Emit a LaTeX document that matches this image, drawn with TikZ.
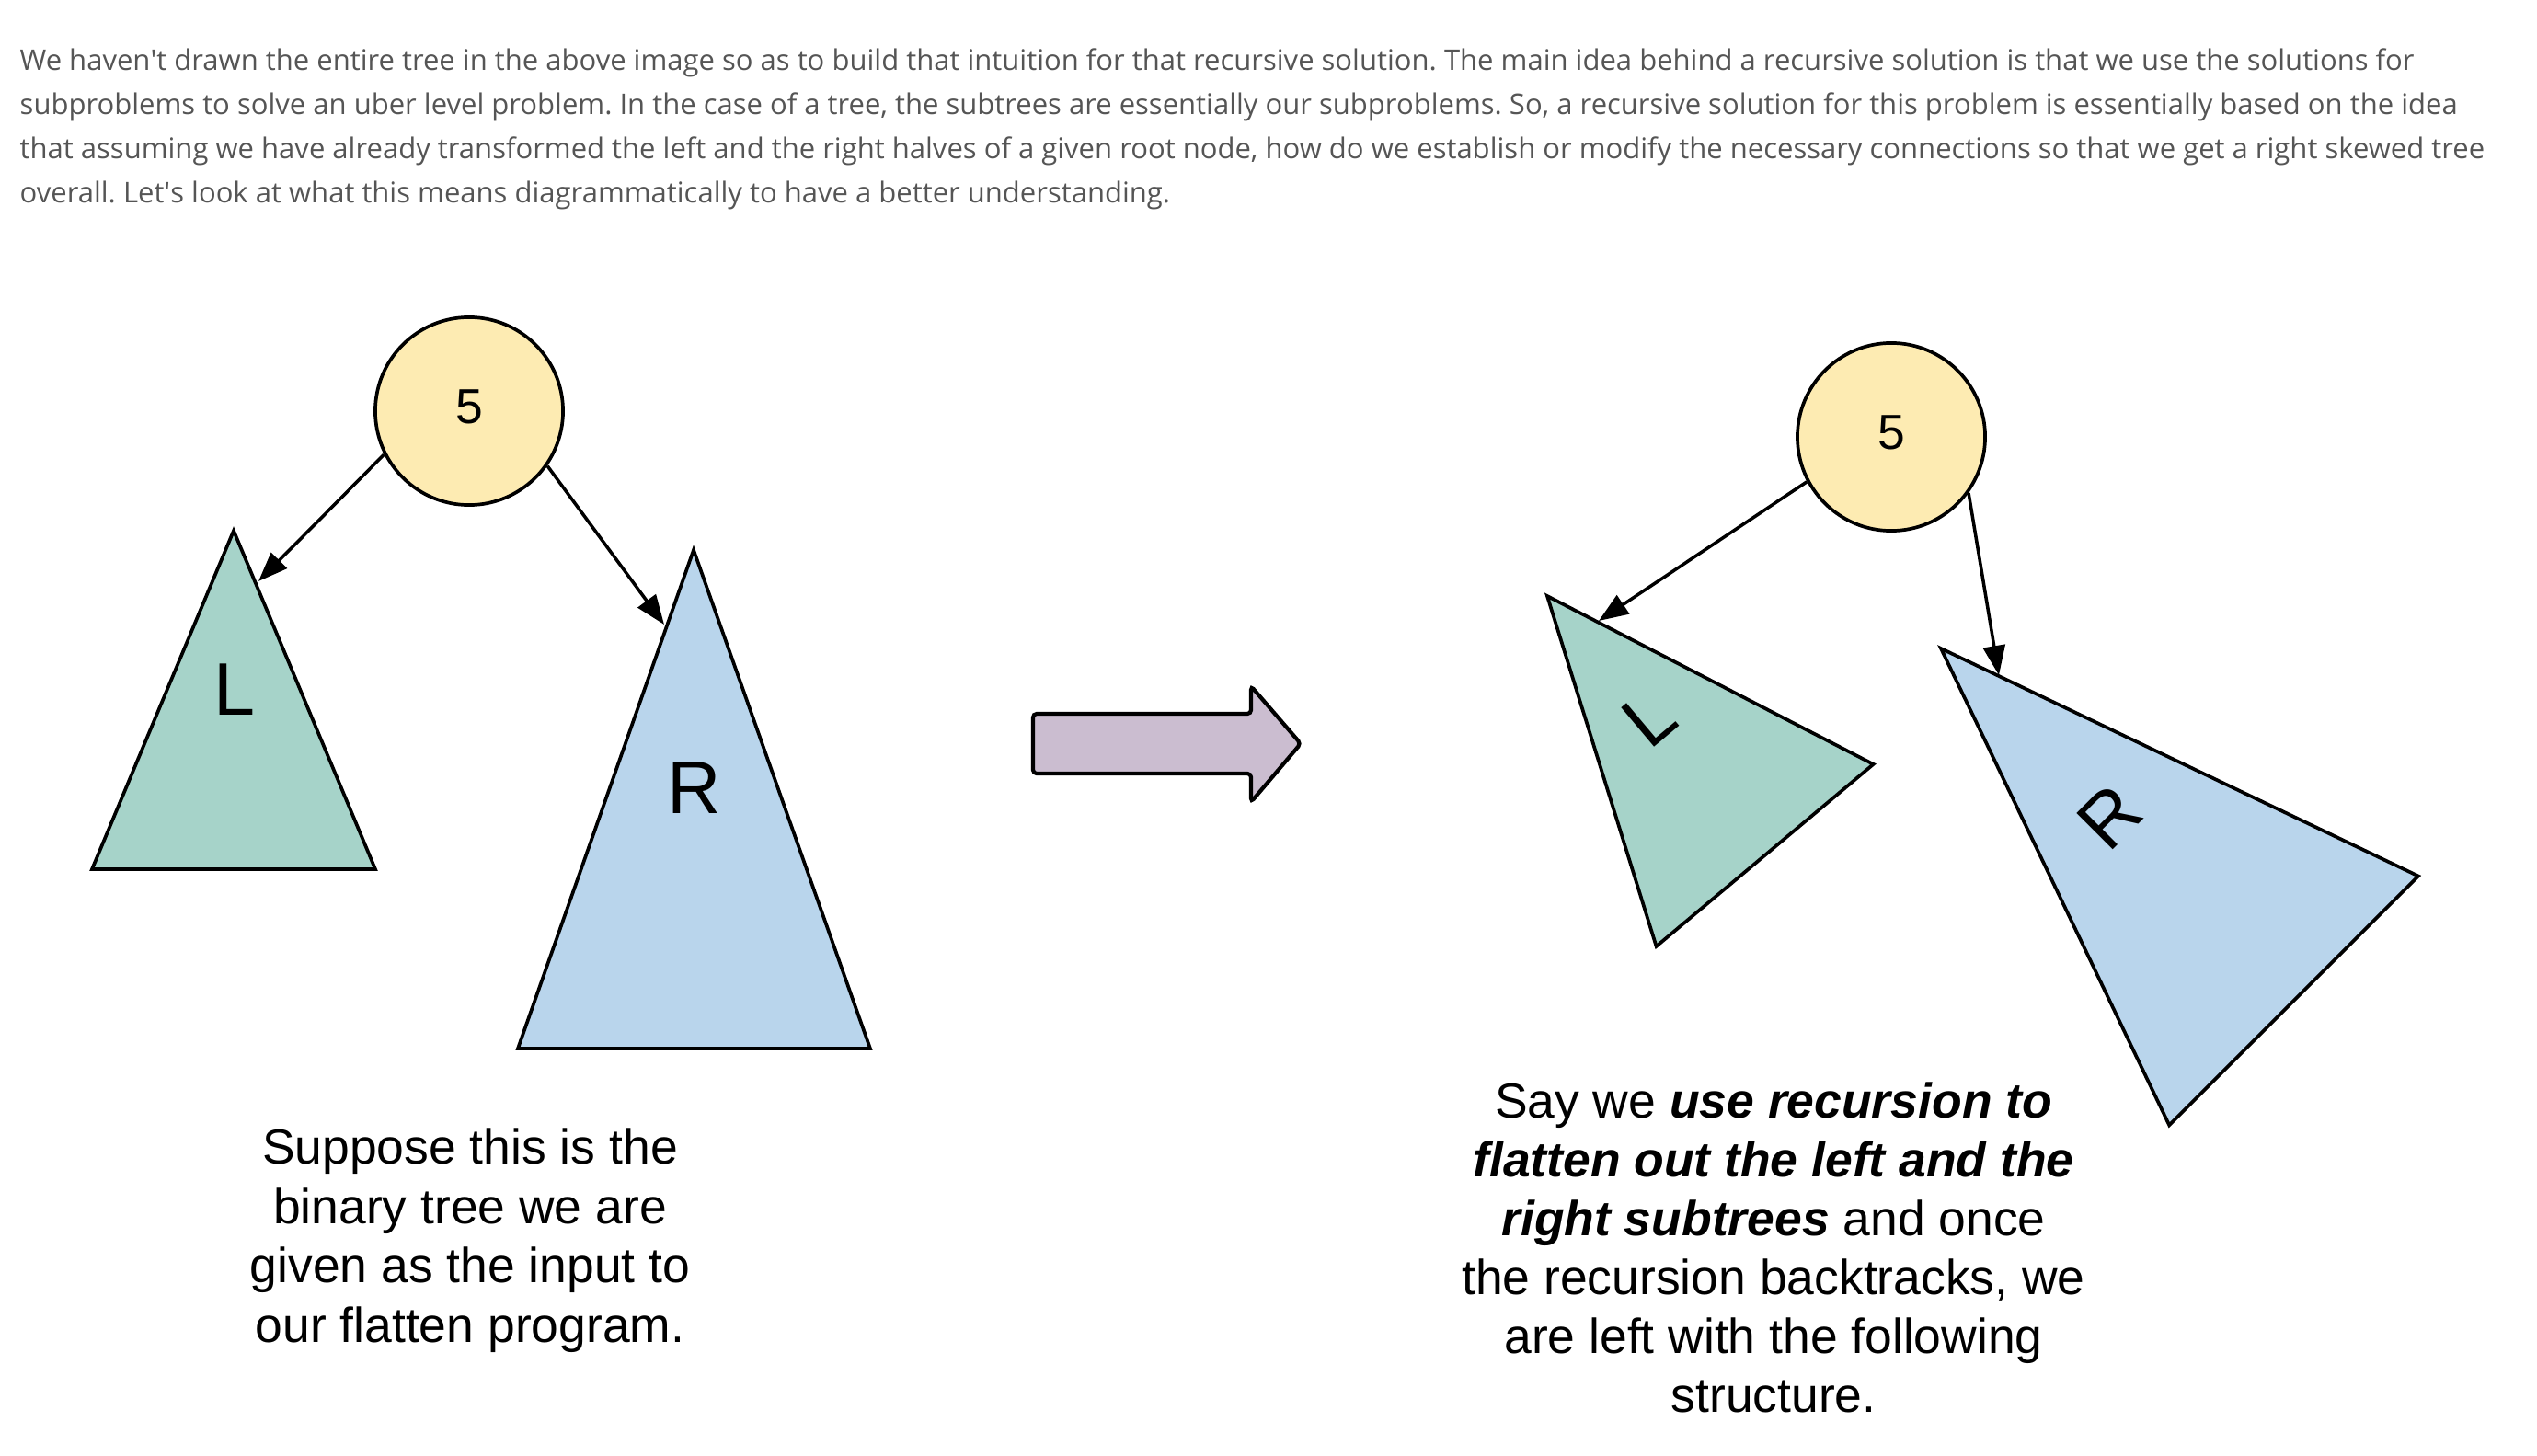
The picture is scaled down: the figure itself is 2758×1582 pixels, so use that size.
\documentclass[tikz,border=0pt]{standalone}
\usepackage{fontspec}
\setmainfont{Liberation Sans}
\newfontfamily\prosefont{Open Sans}
\usetikzlibrary{arrows.meta}
\frenchspacing

\definecolor{rootfill}{RGB}{253,235,178}
\definecolor{leftfill}{RGB}{166,211,201}
\definecolor{rightfill}{RGB}{185,213,236}
\definecolor{arrowfill}{RGB}{203,189,208}
\definecolor{prosegray}{RGB}{85,85,85}

\begin{document}
\begin{tikzpicture}[
    x=0.01cm, y=-0.01cm,
    root/.style={draw, circle, line width=1.05pt, fill=rootfill, minimum size=2.04cm, inner sep=0pt, font=\fontsize{15.2}{18.4}\selectfont, text depth=0.3em},
    tri/.style={draw, line width=1.05pt},
    sub/.style={inner sep=0pt, font=\fontsize{23}{27}\selectfont},
    edge/.style={-{Triangle[length=0.32cm, width=0.24cm]}, line width=1pt},
    prose/.style={anchor=base west, inner sep=0pt, text=prosegray, font=\prosefont\fontsize{8.82}{13.6}\selectfont},
    caption/.style={anchor=north, align=center, inner sep=0pt, font=\fontsize{15.2}{18.2}\selectfont},
    bigarrow/.style={draw, line width=1.2pt, fill=arrowfill, rounded corners=0.04cm}
]
\useasboundingbox (0,0) rectangle (2758,1582);

% intro paragraph
\node[prose] (para1) at (21,77) {We haven\textquotesingle t drawn the entire tree in the above image so as to build that intuition for that recursive solution. The main idea behind a recursive solution is that we use the solutions for};
\node[prose] (para2) at (21,124.5) {subproblems to solve an uber level problem. In the case of a tree, the subtrees are essentially our subproblems. So, a recursive solution for this problem is essentially based on the idea};
\node[prose] (para3) at (21,172.5) {that assuming we have already transformed the left and the right halves of a given root node, how do we establish or modify the necessary connections so that we get a right skewed tree};
\node[prose] (para4) at (21,220) {overall. Let\textquotesingle s look at what this means diagrammatically to have a better understanding.};

% given tree
\node[root] (rootA) at (510,447) {5};
\draw[tri, fill=leftfill] (254,577) -- (100,945) -- (408,945) -- cycle;
\node[sub] (labLA) at (255,750) {L};
\draw[tri, fill=rightfill] (754,598) -- (563,1140) -- (946,1140) -- cycle;
\node[sub] (labRA) at (755,857) {R};
\coordinate (tipLA) at (281,632);
\coordinate (tipRA) at (722,679);
\draw[edge] (rootA.207) -- (tipLA);
\draw[edge] (rootA.325) -- (tipRA);
\node[caption, font=\fontsize{15.2}{18.4}\selectfont] (capA) at (511,1226) {Suppose this is the\\binary tree we are\\given as the input to\\our flatten program.};

% transition
\draw[bigarrow] (1123,776) -- (1360,776) -- (1360,746) -- (1414,808.5) -- (1360,872) -- (1360,841) -- (1123,841) -- cycle;

% flattened subtrees
\node[root] (rootB) at (2056,475) {5};
\begin{scope}[shift={(1682,648)}, rotate=40, transform shape]
  \draw[tri, fill=leftfill] (0,0) -- (-154,368) -- (154,368) -- cycle;
  \node[sub] (labLB) at (0,173) {L};
\end{scope}
\begin{scope}[shift={(2110,705)}, rotate=45, transform shape]
  \draw[tri, fill=rightfill] (0,0) -- (-191,542) -- (192,542) -- cycle;
  \node[sub] (labRB) at (0,259) {R};
\end{scope}
\coordinate (tipLB) at (1738,675);
\coordinate (tipRB) at (2173,734);
\draw[edge] (rootB.208) -- (tipLB);
\draw[edge] (rootB.324) -- (tipRB);
\node[caption] (capB) at (1928,1176) {Say we \textbf{\textit{use recursion to}}\\\textbf{\textit{flatten out the left and the}}\\\textbf{\textit{right subtrees}} and once\\the recursion backtracks, we\\are left with the following\\structure.};
\end{tikzpicture}
\end{document}
